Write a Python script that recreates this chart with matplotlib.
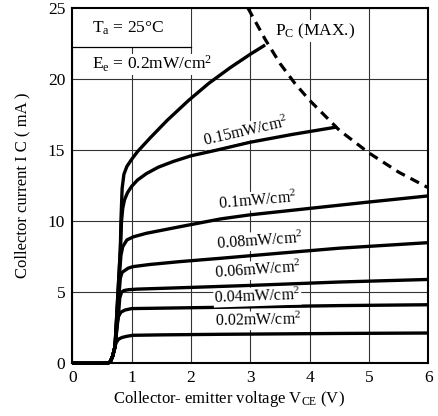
import matplotlib.pyplot as plt
from matplotlib.patches import Rectangle

plt.rcParams['font.family'] = ['Liberation Serif', 'DejaVu Serif']
plt.rcParams['mathtext.fontset'] = 'custom'
plt.rcParams['mathtext.rm'] = 'Liberation Serif'
plt.rcParams['mathtext.it'] = 'Liberation Serif:italic'

# common start of all curves (saturation region)
x_start = [0.0, 0.5, 0.6, 0.64, 0.68, 0.72]
y_start = [0.0, 0.0, 0.02, 0.1, 0.5, 1.17]

# irradiance curves
x_002 = [0.74, 0.78, 0.84, 0.92, 1.02, 1.5, 2.5, 3.5, 4.5, 6.0]
y_002 = [1.45, 1.7, 1.82, 1.9, 1.97, 2.0, 2.04, 2.07, 2.1, 2.13]

x_004 = [0.76, 0.78, 0.82, 0.89, 1.0, 1.5, 2.5, 3.5, 4.5, 6.0]
y_004 = [2.9, 3.3, 3.6, 3.75, 3.85, 3.88, 3.94, 4.0, 4.06, 4.12]

x_006 = [0.78, 0.8, 0.83, 0.87, 0.95, 1.1, 2.0, 3.0, 4.5, 6.0]
y_006 = [3.5, 4.6, 5.0, 5.12, 5.18, 5.22, 5.34, 5.48, 5.72, 5.9]

x_008 = [0.8, 0.81, 0.84, 0.94, 1.02, 1.3, 1.8, 2.5, 3.5, 4.5, 6.0]
y_008 = [5.5, 6.0, 6.4, 6.69, 6.8, 6.95, 7.15, 7.39, 7.75, 8.1, 8.49]

x_010 = [0.8, 0.82, 0.85, 0.92, 1.03, 1.25, 1.8, 2.5, 3.0, 4.0, 5.0, 6.0]
y_010 = [6.5, 7.6, 8.2, 8.68, 8.9, 9.15, 9.6, 10.16, 10.45, 10.9, 11.35, 11.78]

x_015 = [0.81, 0.83, 0.85, 0.88, 0.93, 1.0, 1.1, 1.25, 1.45, 1.7, 2.0, 2.43, 2.99, 3.7, 4.46]
y_015 = [8.0, 10.0, 10.9, 11.5, 12.0, 12.45, 12.9, 13.35, 13.8, 14.2, 14.6, 15.0, 15.55, 16.1, 16.63]

x_020 = [0.81, 0.82, 0.84, 0.87, 0.92, 1.0, 1.1, 1.31, 1.6, 1.96, 2.3, 2.66, 3.0, 3.25]
y_020 = [8.0, 10.0, 12.3, 13.3, 13.85, 14.35, 14.9, 15.85, 17.1, 18.5, 19.7, 20.8, 21.75, 22.4]

curves = [(x_002, y_002), (x_004, y_004), (x_006, y_006), (x_008, y_008),
          (x_010, y_010), (x_015, y_015), (x_020, y_020)]

# Pc(MAX.) dashed limit
x_pc = [2.96, 3.25, 3.5, 3.75, 4.0, 4.5, 5.0, 5.5, 6.0]
y_pc = [25.0, 22.8, 21.1, 19.7, 18.5, 16.4, 14.8, 13.45, 12.35]

# curve labels: text, x, y, rotation
lbl_text = ['0.15mW/cm$^{\\mathrm{2}}$', '0.1mW/cm$^{\\mathrm{2}}$', '0.08mW/cm$^{\\mathrm{2}}$',
            '0.06mW/cm$^{\\mathrm{2}}$', '0.04mW/cm$^{\\mathrm{2}}$', '0.02mW/cm$^{\\mathrm{2}}$']
lbl_x = [2.92, 3.13, 3.16, 3.12, 3.12, 3.14]
lbl_y = [16.3, 11.45, 8.6, 6.55, 4.68, 3.0]
lbl_rot = [13, 5, 4, 4, 2, 1]

fig = plt.figure(figsize=(4.38, 4.16), dpi=100)
ax = fig.add_axes([0.165, 0.1267, 0.813, 0.854])

ax.set_xlim(0, 6)
ax.set_ylim(0, 25)
ax.set_xticks(range(0, 7))
ax.set_yticks(range(0, 26, 5))
ax.tick_params(length=0, labelsize=12.5, pad=5)
ax.grid(True, color='#333333', lw=0.8)
ax.set_axisbelow(True)
for s in ax.spines.values():
    s.set_linewidth(1.5)

for xs, ys in curves:
    ax.plot(x_start + xs, y_start + ys, color='black', lw=2.4, zorder=3,
            solid_capstyle='butt', solid_joinstyle='round', clip_on=False)

ax.plot(x_pc, y_pc, color='black', lw=2.3, ls=(0, (3, 2)), zorder=3)

for t, x, y, r in zip(lbl_text, lbl_x, lbl_y, lbl_rot):
    ax.text(x, y, t, fontsize=11.5, rotation=r, ha='center', va='center', zorder=4,
            rotation_mode='anchor',
            bbox=dict(facecolor='white', edgecolor='none', pad=0.5))

# condition box
ax.add_patch(Rectangle((0, 22.25), 2, 2.75, facecolor='white', edgecolor='none', zorder=2))
ax.plot([0, 2], [22.25, 22.25], color='black', lw=0.9, zorder=2)
ax.text(0.33, 23.55, 'T$_{\\mathrm{a}}$ = 25°C', fontsize=12.5, va='center', zorder=4)
ax.text(0.33, 21.05, 'E$_{\\mathrm{e}}$ = 0.2mW/cm$^{\\mathrm{2}}$', fontsize=12.5, va='center',
        zorder=4, bbox=dict(facecolor='white', edgecolor='none', pad=0.3))
ax.text(3.42, 23.35, 'P$_{\\mathrm{C}}$ (MAX.)', fontsize=12.5, va='center', zorder=4,
        bbox=dict(facecolor='white', edgecolor='none', pad=1))

ax.set_xlabel('Collector- emitter voltage V$_{\\mathrm{CE}}$ (V)', fontsize=12)
ax.set_ylabel('Collector current I C ( mA )', fontsize=12)
ax.xaxis.set_label_coords(0.44, -0.072)
ax.yaxis.set_label_coords(-0.118, 0.5)

fig.savefig('out.png', dpi=100)
